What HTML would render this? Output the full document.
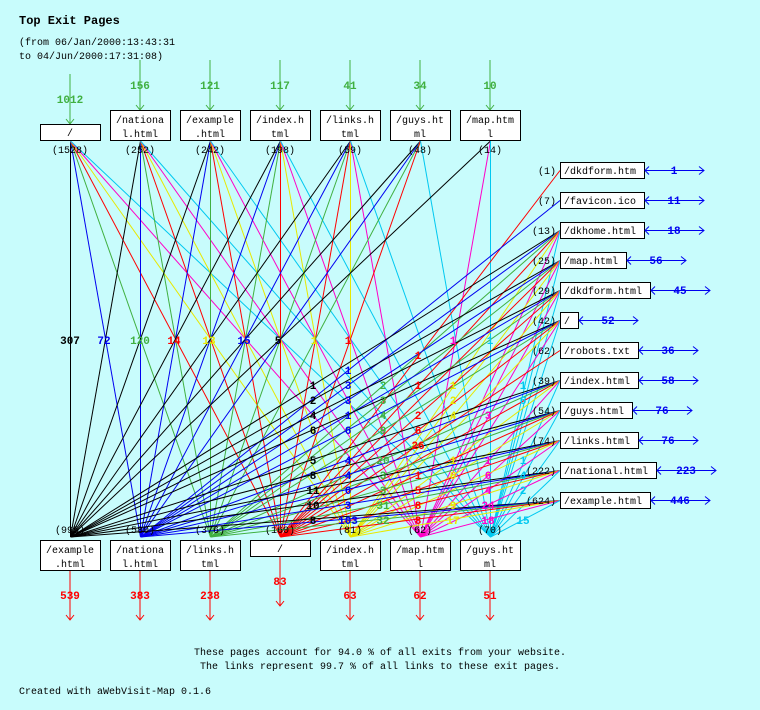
<!DOCTYPE html>
<html><head><meta charset="utf-8">
<style>
html,body{margin:0;padding:0;background:#c8fcfc;}
svg{display:block;}
text{font-family:"Liberation Mono","DejaVu Sans Mono",monospace;font-size:10px;}
.b,text.b{font-weight:bold;font-size:11px;}
</style></head>
<body>
<svg id="s" width="760" height="710" xmlns="http://www.w3.org/2000/svg">
<rect width="760" height="710" fill="#c8fcfc"/>
<g id="lines"></g>
<text x="19" y="24" class="b" style="font-size:12px">Top Exit Pages</text>
<text x="19" y="45">(from 06/Jan/2000:13:43:31</text>
<text x="19" y="59">to 04/Jun/2000:17:31:08)</text>

<g stroke="#40b040" fill="none" stroke-width="1">
<path d="M70 74V124M66 119L70 124L74 119"/>
<path d="M140 60V110M136 105L140 110L144 105"/>
<path d="M210 60V110M206 105L210 110L214 105"/>
<path d="M280 60V110M276 105L280 110L284 105"/>
<path d="M350 60V110M346 105L350 110L354 105"/>
<path d="M420 60V110M416 105L420 110L424 105"/>
<path d="M490 60V110M486 105L490 110L494 105"/>
</g>
<g fill="#40b040" text-anchor="middle">
<text x="70" y="103" class="b">1012</text>
<text x="140" y="89" class="b">156</text>
<text x="210" y="89" class="b">121</text>
<text x="280" y="89" class="b">117</text>
<text x="350" y="89" class="b">41</text>
<text x="420" y="89" class="b">34</text>
<text x="490" y="89" class="b">10</text>
</g>

<g fill="#fff" stroke="#000">
<rect x="40.5" y="124.5" width="60" height="16"/>
<rect x="110.5" y="110.5" width="60" height="30"/>
<rect x="180.5" y="110.5" width="60" height="30"/>
<rect x="250.5" y="110.5" width="60" height="30"/>
<rect x="320.5" y="110.5" width="60" height="30"/>
<rect x="390.5" y="110.5" width="60" height="30"/>
<rect x="460.5" y="110.5" width="60" height="30"/>
</g>
<g text-anchor="middle">
<text x="70" y="136">/</text>
<text x="140" y="123">/nationa</text><text x="140" y="137">l.html</text>
<text x="210" y="123">/example</text><text x="210" y="137">.html</text>
<text x="280" y="123">/index.h</text><text x="280" y="137">tml</text>
<text x="350" y="123">/links.h</text><text x="350" y="137">tml</text>
<text x="420" y="123">/guys.ht</text><text x="420" y="137">ml</text>
<text x="490" y="123">/map.htm</text><text x="490" y="137">l</text>
<text x="70" y="153">(1528)</text>
<text x="140" y="153">(252)</text>
<text x="210" y="153">(242)</text>
<text x="280" y="153">(198)</text>
<text x="350" y="153">(59)</text>
<text x="420" y="153">(48)</text>
<text x="490" y="153">(14)</text>
</g>

<g fill="#fff" stroke="#000">
<rect x="40.5" y="540.5" width="60" height="30"/>
<rect x="110.5" y="540.5" width="60" height="30"/>
<rect x="180.5" y="540.5" width="60" height="30"/>
<rect x="250.5" y="540.5" width="60" height="16"/>
<rect x="320.5" y="540.5" width="60" height="30"/>
<rect x="390.5" y="540.5" width="60" height="30"/>
<rect x="460.5" y="540.5" width="60" height="30"/>
</g>
<g text-anchor="middle">
<text x="70" y="533">(995)</text>
<text x="140" y="533">(580)</text>
<text x="210" y="533">(376)</text>
<text x="280" y="533">(160)</text>
<text x="350" y="533">(81)</text>
<text x="420" y="533">(62)</text>
<text x="490" y="533">(70)</text>
<text x="70" y="553">/example</text><text x="70" y="567">.html</text>
<text x="140" y="553">/nationa</text><text x="140" y="567">l.html</text>
<text x="210" y="553">/links.h</text><text x="210" y="567">tml</text>
<text x="280" y="552">/</text>
<text x="350" y="553">/index.h</text><text x="350" y="567">tml</text>
<text x="420" y="553">/map.htm</text><text x="420" y="567">l</text>
<text x="490" y="553">/guys.ht</text><text x="490" y="567">ml</text>
</g>
<g stroke="#f00" fill="none">
<path d="M70 571V620M66 615L70 620L74 615"/>
<path d="M140 571V620M136 615L140 620L144 615"/>
<path d="M210 571V620M206 615L210 620L214 615"/>
<path d="M280 557V606M276 601L280 606L284 601"/>
<path d="M350 571V620M346 615L350 620L354 615"/>
<path d="M420 571V620M416 615L420 620L424 615"/>
<path d="M490 571V620M486 615L490 620L494 615"/>
</g>
<g fill="#f00" text-anchor="middle">
<text x="70" y="599" class="b">539</text>
<text x="140" y="599" class="b">383</text>
<text x="210" y="599" class="b">238</text>
<text x="280" y="585" class="b">83</text>
<text x="350" y="599" class="b">63</text>
<text x="420" y="599" class="b">62</text>
<text x="490" y="599" class="b">51</text>
</g>

<g id="right"></g>

<g text-anchor="middle">
<text x="70" y="344" class="b" fill="#000">307</text>
<text x="104" y="344" class="b" fill="#0000f0">72</text>
<text x="140" y="344" class="b" fill="#40b040">120</text>
<text x="174" y="344" class="b" fill="#f00">14</text>
<text x="209" y="344" class="b" fill="#e8e800">13</text>
<text x="244" y="344" class="b" fill="#0000f0">15</text>
<text x="278" y="344" class="b" fill="#000">5</text>
<text x="314" y="344" class="b" fill="#e8e800">1</text>
<text x="348" y="344" class="b" fill="#f00">1</text>
<text x="453" y="344" class="b" fill="#ff00c8">1</text>
<text x="490" y="344" class="b" fill="#00c8f0">1</text>
</g>
<g id="labs" text-anchor="middle"></g>

<text x="380" y="655" text-anchor="middle">These pages account for 94.0 % of all exits from your website.</text>
<text x="380" y="669" text-anchor="middle">The links represent 99.7 % of all links to these exit pages.</text>
<text x="19" y="694">Created with aWebVisit-Map 0.1.6</text>
</svg>
<script>
var NS="http://www.w3.org/2000/svg";
var cols=["#000","#0000f0","#40b040","#f00","#e8e800","#ff00c8","#00c8f0"];
var bx=[70,140,210,280,350,420,490];
var L=document.getElementById("lines");
function ln(x1,y1,x2,y2,c){var e=document.createElementNS(NS,"line");e.setAttribute("x1",x1);e.setAttribute("y1",y1);e.setAttribute("x2",x2);e.setAttribute("y2",y2);e.setAttribute("stroke",c);e.setAttribute("stroke-width","1");L.appendChild(e);}
for(var i=0;i<7;i++){for(var j=0;j<7;j++){
 if(i==6&&!(j==0||j==5||j==6))continue;
 if(i==5&&(j==4||j==5))continue;
 ln(bx[i]+0.5,141,bx[j]+0.5,537,cols[j]);}}
var R=[["/dkdform.htm",170,84,"1",[3]],["/favicon.ico",200,84,"11",[1]],["/dkhome.html",230,84,"18"],["/map.html",260,66,"56"],["/dkdform.html",290,90,"45"],["/",320,18,"52"],["/robots.txt",350,78,"36",[3]],["/index.html",380,78,"58"],["/guys.html",410,72,"76"],["/links.html",440,78,"76"],["/national.html",470,96,"223"],["/example.html",500,90,"446"]];
var cnt=["(1)","(7)","(13)","(25)","(29)","(42)","(62)","(39)","(54)","(74)","(222)","(624)"];
var G=document.getElementById("right");
var h="";
R.forEach(function(r,k){
 var y=r[1],set=r[4]||[0,1,2,3,4,5,6];
 set.forEach(function(j){ln(560,y+0.5,bx[j]+0.5,537,cols[j]);});
 var x2=560+r[2];
 h+='<rect x="560.5" y="'+(y-7.5)+'" width="'+r[2]+'" height="16" fill="#fff" stroke="#000"/>';
 h+='<text x="564" y="'+(y+4)+'">'+r[0]+'</text>';
 h+='<text x="556" y="'+(y+4)+'" text-anchor="end">'+cnt[k]+'</text>';
 h+='<path d="M'+(x2+1)+' '+(y+0.5)+'H'+(x2+60)+'M'+(x2+5)+' '+(y-3.5)+'L'+(x2+1)+' '+(y+0.5)+'L'+(x2+5)+' '+(y+4.5)+'M'+(x2+55)+' '+(y-3.5)+'L'+(x2+60)+' '+(y+0.5)+'L'+(x2+55)+' '+(y+4.5)+'" stroke="#0000f0" fill="none"/>';
 h+='<text class="b" x="'+(x2+30)+'" y="'+(y+4)+'" text-anchor="middle" fill="#0000f0">'+r[3]+'</text>';
});
G.innerHTML=h;
var labs=[[313,"#000",[[385,"1"],[400,"2"],[415,"4"],[430,"6"],[460,"5"],[475,"8"],[490,"11"],[505,"10"],[520,"8"]]],
[348,"#0000f0",[[370,"1"],[385,"3"],[400,"3"],[415,"1"],[430,"6"],[460,"4"],[475,"4"],[490,"6"],[505,"3"],[520,"103"]]],
[383,"#40b040",[[385,"2"],[400,"3"],[415,"4"],[430,"9"],[460,"20"],[475,"3"],[490,"3"],[505,"31"],[520,"32"]]],
[418,"#f00",[[355,"1"],[385,"1"],[415,"2"],[430,"6"],[445,"26"],[475,"1"],[490,"5"],[505,"8"],[520,"8"]]],
[453,"#e8e800",[[385,"1"],[400,"2"],[415,"4"],[460,"1"],[475,"6"],[505,"9"],[520,"17"]]],
[488,"#ff00c8",[[415,"3"],[460,"1"],[475,"6"],[490,"4"],[505,"24"],[520,"18"]]],
[523,"#00c8f0",[[385,"1"],[400,"6"],[460,"1"],[475,"4"],[490,"2"],[520,"15"]]]];
var s="";
labs.forEach(function(c){c[2].forEach(function(p){s+='<text class="b" x="'+c[0]+'" y="'+(p[0]+4)+'" fill="'+c[1]+'">'+p[1]+'</text>';});});
document.getElementById("labs").innerHTML=s;
</script>
</body></html>
